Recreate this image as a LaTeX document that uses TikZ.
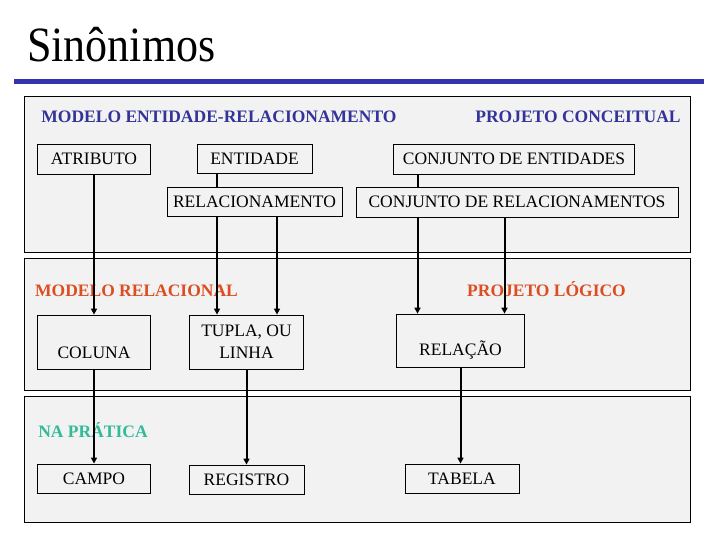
\documentclass[tikz,border=0pt]{standalone}
\usepackage{fontspec}
\setmainfont{Liberation Serif}
\usetikzlibrary{arrows.meta}

\pgfdeclarelayer{back}
\pgfdeclarelayer{mid}
\pgfsetlayers{back,mid,main}

\definecolor{regua}{RGB}{51,51,170}
\definecolor{azulcab}{RGB}{51,51,153}
\definecolor{vermcab}{RGB}{221,77,34}
\definecolor{verdecab}{RGB}{51,187,153}
\definecolor{cinza}{RGB}{242,242,242}

\begin{document}
\begin{tikzpicture}[x=1pt, y=-1pt,
    painel/.style={draw, line width=0.9pt, fill=cinza},
    termo/.style={draw, line width=0.8pt, fill=cinza, inner sep=0pt, align=center,
        font=\fontsize{17.5}{22}\selectfont},
    cabeca/.style={anchor=base, inner sep=0pt, font=\fontsize{17.5}{21}\selectfont\bfseries},
    seta/.style={-{Triangle[length=6pt, width=6pt]}, line width=2pt}]
    \useasboundingbox (0,0) rectangle (720,540);

    % titulo e regua
    \node[anchor=base west, inner sep=0pt, font=\fontsize{44}{48}\selectfont] (tit) at (27,62) {\scalebox{1}[1.12]{Sinônimos}};
    \fill[regua] (14,79) rectangle (704,84);

    % paineis e cabecalhos
    \begin{pgfonlayer}{back}
        \draw[painel] (24,96) rectangle (690.7,252.3);
        \draw[painel] (24,258.7) rectangle (690.7,390.3);
        \draw[painel] (24,396.7) rectangle (690.7,522.7);
        \node[cabeca, text=azulcab] (hmer) at (219,122.5) {MODELO ENTIDADE-RELACIONAMENTO};
        \node[cabeca, text=azulcab] (hpc) at (578,122.5) {PROJETO CONCEITUAL};
        \node[cabeca, text=vermcab] (hmr) at (136.5,296.5) {MODELO RELACIONAL};
        \node[cabeca, text=vermcab] (hpl) at (546.5,296.5) {PROJETO LÓGICO};
        \node[cabeca, text=verdecab] (hnp) at (93,437) {NA PRÁTICA};
    \end{pgfonlayer}

    % conceitual
    \node[termo, minimum width=113pt, minimum height=30pt] (atr) at (94,159) {ATRIBUTO};
    \node[termo, minimum width=115pt, minimum height=29pt] (ent) at (254.5,158.5) {ENTIDADE};
    \node[termo, minimum width=175pt, minimum height=29.5pt] (rel) at (254.5,202) {RELACIONAMENTO};
    \node[termo, minimum width=241pt, minimum height=30pt] (cje) at (514,159) {CONJUNTO DE ENTIDADES};
    \node[termo, minimum width=322pt, minimum height=30pt] (cjr) at (517,202) {CONJUNTO DE RELACIONAMENTOS};

    % logico
    \node[termo, minimum width=113.4pt, minimum height=54pt] (col) at (94,342) {\vphantom{T}\\COLUNA};
    \node[termo, minimum width=114.7pt, minimum height=54pt] (tup) at (246.5,342) {TUPLA, OU\\LINHA};
    \node[termo, minimum width=128pt, minimum height=53.3pt] (rlc) at (460.5,340.7) {\vphantom{T}\\RELAÇÃO};

    % pratica
    \node[termo, minimum width=113.4pt, minimum height=29.5pt] (cam) at (94,478.7) {CAMPO};
    \node[termo, minimum width=115pt, minimum height=29pt] (reg) at (246.5,479.5) {REGISTRO};
    \node[termo, minimum width=114pt, minimum height=29pt] (tab) at (462,478.5) {TABELA};

    \coordinate (e1) at ([xshift=-37.5pt]ent.south);
    \coordinate (r1) at ([xshift=22.5pt]rel.south);
    \coordinate (c1) at ([xshift=-96.5pt]cje.south);
    \coordinate (c2) at ([xshift=-12.5pt]cjr.south);

    \begin{pgfonlayer}{mid}
        \path
            (atr.south) edge[seta] (atr.south |- col.north)
            (e1) edge[seta] (e1 |- tup.north)
            (r1) edge[seta] (r1 |- tup.north)
            (c1) edge[seta] (c1 |- rlc.north)
            (c2) edge[seta] (c2 |- rlc.north)
            (col.south) edge[seta] (col.south |- cam.north)
            (tup.south) edge[seta] (tup.south |- reg.north)
            (rlc.south) edge[seta] (rlc.south |- tab.north)
            ;
    \end{pgfonlayer}
\end{tikzpicture}
\end{document}
